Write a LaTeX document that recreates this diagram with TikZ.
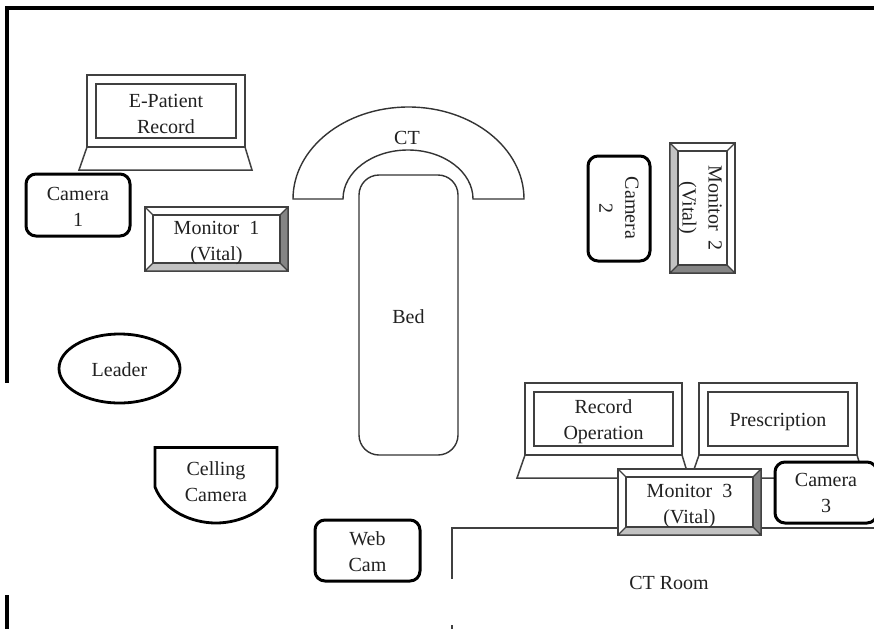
\documentclass[tikz,border=0pt]{standalone}
\usepackage{fontspec}
\usetikzlibrary{shapes.geometric}
\setmainfont{Liberation Serif}
\definecolor{ink}{gray}{0.13}
\definecolor{thinline}{gray}{0.25}
\definecolor{bevdark}{gray}{0.52}
\definecolor{bevlight}{gray}{0.76}
\newcommand{\dn}{\rule{0pt}{16pt}}
\tikzset{
  every node/.style={font=\fontsize{20}{26}\selectfont, text=ink, align=center, inner sep=0pt, outer sep=0pt},
  wall/.style={draw=black, line width=3.2pt},
  thinwall/.style={draw=thinline, line width=1.4pt},
  laptopline/.style={draw=thinline, line width=1.5pt, fill=white},
  camerabox/.style={draw=black, line width=3pt, rounded corners=10pt, fill=white, minimum width=#1},
  screen/.style={draw=thinline, line width=1.5pt, fill=white},
  bevelline/.style={draw=thinline, line width=1.3pt},
  bedline/.style={draw=black!80, line width=1.4pt, fill=white},
  thick outline/.style={draw=black, line width=2.8pt, fill=white}
}
% #1 name, #2 cx, #3 cy, #4 half width, #5 half height, #6 text
\newcommand{\monitorH}[6]{%
  \node[bevelline, fill=white, minimum width=#4*2pt, minimum height=#5*2pt] (#1o) at (#2,#3) {};
  \fill[bevdark] (#2+#4,#3-#5) -- (#2+#4-8,#3-#5+8) -- (#2+#4-8,#3+#5-8) -- (#2+#4,#3+#5) -- cycle;
  \fill[bevlight] (#2-#4,#3+#5) -- (#2-#4+8,#3+#5-8) -- (#2+#4-8,#3+#5-8) -- (#2+#4,#3+#5) -- cycle;
  \draw[bevelline] (#2-#4,#3-#5) -- (#2-#4+8,#3-#5+8) (#2+#4,#3-#5) -- (#2+#4-8,#3-#5+8)
    (#2-#4,#3+#5) -- (#2-#4+8,#3+#5-8) (#2+#4,#3+#5) -- (#2+#4-8,#3+#5-8)
    (#2-#4,#3-#5) rectangle (#2+#4,#3+#5);
  \node[bevelline, minimum width=#4*2pt-16pt, minimum height=#5*2pt-16pt] (#1i) at (#2,#3) {};
  \node (#1) at (#2,#3+4) {#6};
}
% #1 name, #2 left, #3 right, #4 top, #5 text
\newcommand{\laptopfig}[5]{%
  \draw[laptopline] (#2,#4+72) -- (#3,#4+72) -- (#3+7,#4+95) -- (#2-8,#4+95) -- cycle;
  \node[screen, minimum width=#3pt-#2pt, minimum height=72pt, anchor=north west] (#1o) at (#2,#4) {};
  \node[screen, minimum width=#3pt-#2pt-18pt, minimum height=54pt, anchor=north west] (#1i) at (#2+9,#4+9) {};
  \node (#1) at ($(#1i.center)+(0,3)$) {#5};
}
\usetikzlibrary{calc}
\begin{document}
\begin{tikzpicture}[x=1pt,y=-1pt]
\useasboundingbox[fill=white] (0,0) rectangle (874,629);
% walls
\coordinate (w1) at (874,8); \coordinate (w2) at (7,8); \coordinate (w3) at (7,383);
\coordinate (w4) at (7,595); \coordinate (w5) at (7,629);
\draw[wall] (w1) -- (w2) -- (w3);
\draw[wall] (w4) -- (w5);
\coordinate (r1) at (874,528); \coordinate (r2) at (452,528); \coordinate (r3) at (452,579);
\coordinate (r4) at (452,625); \coordinate (r5) at (452,629);
\draw[thinwall] (r1) -- (r2) -- (r3);
\draw[thinwall] (r4) -- (r5);
% laptops
\laptopfig{epr}{87}{245}{75}{E-Patient\\Record}
\laptopfig{rec}{525}{682}{383}{Record\\Operation}
\laptopfig{pre}{699}{857}{383}{Prescription}
% CT
\draw[bedline] (293,199) arc[start angle=180,end angle=360,x radius=115.5,y radius=92] -- (473,199)
  arc[start angle=0,end angle=-180,x radius=65,y radius=49] -- cycle;
\node (ct) at (407,138) {CT};
% bed
\node[bedline, rounded corners=20pt, minimum width=99pt, minimum height=280pt] (bed) at (408.5,315) {\rule{0pt}{17pt}Bed};
% cameras
\node[camerabox=104pt, minimum height=62pt] (cam1) at (78,205) {\dn Camera\\1};
\node[camerabox=105pt, minimum height=61pt] (webcam) at (367.5,550.5) {\dn Web\\Cam};
\node[camerabox=62pt, minimum height=105pt] (cam2) at (619,208.5) {};
\node[rotate=-90] (cam2t) at (619,208) {Camera\\2};
% monitors
\monitorH{mona}{216.5}{239}{71.5}{32}{Monitor\ \ 1\\(Vital)}
\monitorH{monc}{689.5}{502}{71.5}{33}{Monitor\ \ 3\\(Vital)}
% monitor 2 (vertical)
\node[bevelline, fill=white, minimum width=65pt, minimum height=130pt] (monbo) at (702.5,208) {};
\fill[bevlight] (670,143) -- (678,151) -- (678,265) -- (670,273) -- cycle;
\fill[bevdark] (670,273) -- (678,265) -- (727,265) -- (735,273) -- cycle;
\draw[bevelline] (670,143) rectangle (735,273) (670,143) -- (678,151) (735,143) -- (727,151)
  (670,273) -- (678,265) (735,273) -- (727,265);
\node[bevelline, minimum width=49pt, minimum height=114pt] (monbi) at (702.5,208) {};
\node[rotate=-90] (monb) at (700,208) {Monitor\ \ 2\\(Vital)};
% camera 3
\node[camerabox=102pt, minimum height=61pt] (camc) at (826,492.5) {Camera\\3};
% leader
\node[thick outline, ellipse, minimum width=121pt, minimum height=69pt] (leader) at (119.5,368.5) {\rule{0pt}{17pt}Leader};
% ceiling camera
\draw[thick outline] (155,447.5) -- (277,447.5) -- (277,487)
  .. controls (268,511) and (240,523) .. (216,523) .. controls (192,523) and (164,511) .. (155,487) -- cycle;
\node (ceil) at (216,482) {Celling\\Camera};
% CT room
\node (ctroom) at (669,583) {CT Room};
\end{tikzpicture}
\end{document}
